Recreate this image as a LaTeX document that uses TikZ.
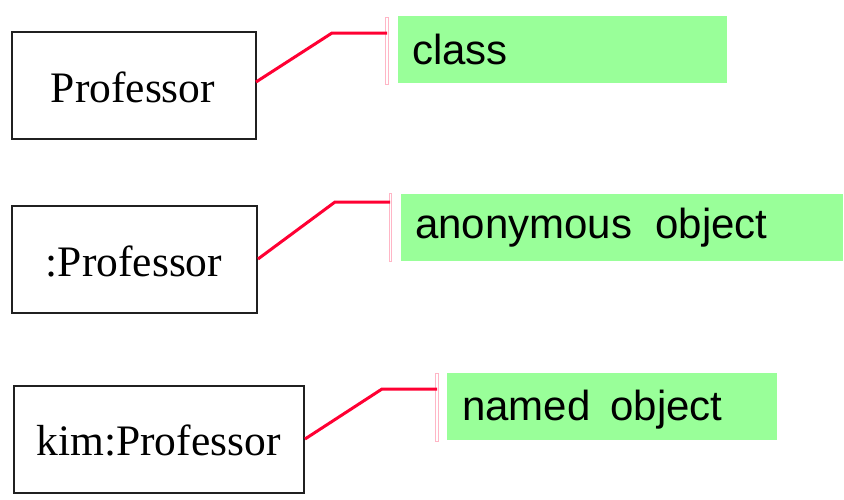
\documentclass[tikz,border=0pt]{standalone}
\usepackage{fontspec}
\setmainfont{Liberation Serif}
\newfontfamily\labelfont{Liberation Sans}
\definecolor{linkred}{HTML}{FF0033}
\definecolor{notegreen}{HTML}{99FF99}
\definecolor{bracketpink}{HTML}{FFB6C6}
\definecolor{boxgray}{HTML}{202020}
\begin{document}
\begin{tikzpicture}[x=1pt,y=-1pt,
  umlbox/.style={draw=boxgray,line width=1.8pt,inner sep=0pt,fill=white},
  notetext/.style={anchor=base west,inner sep=0pt,font=\labelfont\fontsize{42}{50}\selectfont},
  boxtext/.style={inner sep=0pt,font=\fontsize{43.5}{50}\selectfont},
  bracketline/.style={draw=bracketpink,line width=0.8pt},
  link/.style={draw=linkred,line width=3pt,line join=miter}]
\useasboundingbox (0,0) rectangle (844,499);
% boxes
\draw[umlbox] (12,32) rectangle (256,139);
\node[boxtext,anchor=base] (t1) at (133,102) {Professor};
\draw[umlbox] (12,206) rectangle (257,313);
\node[boxtext,anchor=base] (t2) at (134,276) {:Professor};
\draw[umlbox] (14,386) rectangle (304,493);
\node[boxtext,anchor=base] (t3) at (158.5,455) {kim:Professor};
\coordinate (s1) at (256,82);
\coordinate (s2) at (258,259);
\coordinate (s3) at (305,439);
\coordinate (k1) at (332,33);
\coordinate (k2) at (335,202);
\coordinate (k3) at (382,389);
\coordinate (e1) at (387,33);
\coordinate (e2) at (390,202);
\coordinate (e3) at (437,389);
% notes
\fill[notegreen] (398,16) rectangle (727,83);
\node[notetext] (n1) at (412,64) {class};
\fill[notegreen] (401,194) rectangle (843,261);
\node[notetext] (n2) at (415,238) {anonymous\ \ object};
\fill[notegreen] (447,373) rectangle (777,440);
\node[notetext] (n3) at (462,420) {named\hspace{20pt}object};
% brackets
\draw[bracketline] (385.5,17) rectangle (388.5,84);
\draw[bracketline] (389,193) rectangle (391.5,261);
\draw[bracketline] (435.5,373) rectangle (438.5,441);
% connectors
\draw[link] (s1) -- (k1) -- (e1);
\draw[link] (s2) -- (k2) -- (e2);
\draw[link] (s3) -- (k3) -- (e3);
\end{tikzpicture}
\end{document}
